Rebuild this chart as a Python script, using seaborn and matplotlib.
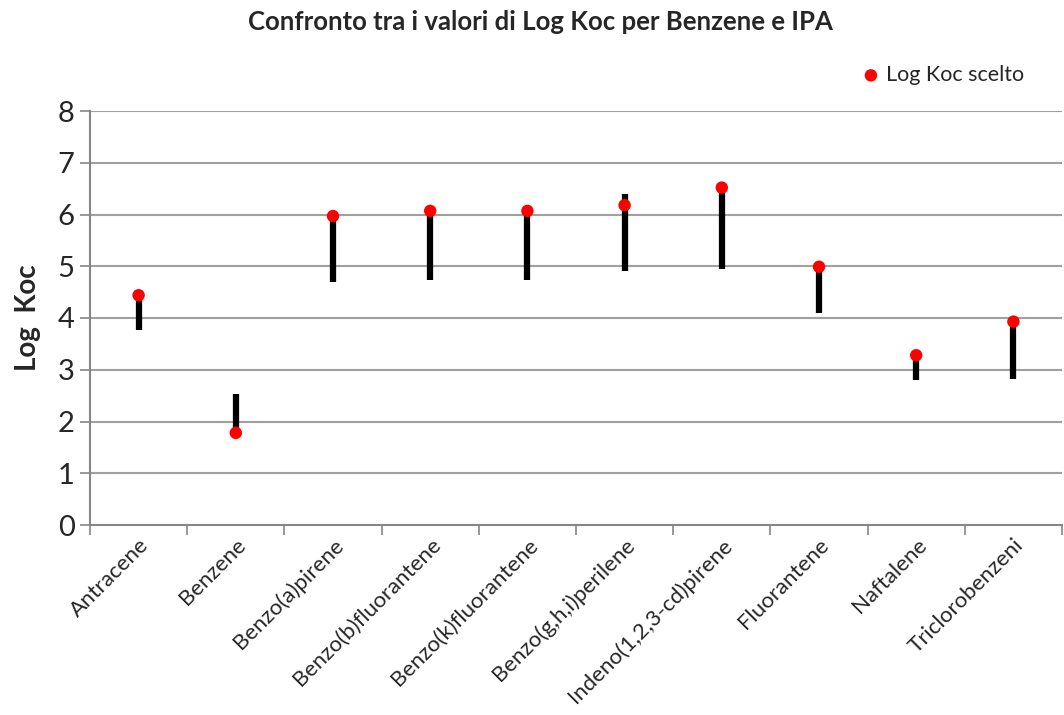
import numpy as np
import pandas as pd
import matplotlib
matplotlib.use("Agg")
import matplotlib.pyplot as plt
import seaborn as sns

compounds = ["Antracene", "Benzene", "Benzo(a)pirene", "Benzo(b)fluorantene",
             "Benzo(k)fluorantene", "Benzo(g,h,i)perilene", "Indeno(1,2,3-cd)pirene",
             "Fluorantene", "Naftalene", "Triclorobenzeni"]
koc_min = [3.77, 1.78, 4.70, 4.74, 4.74, 4.90, 4.95, 4.10, 2.81, 2.83]
koc_max = [4.44, 2.53, 5.97, 6.07, 6.07, 6.40, 6.52, 4.99, 3.28, 3.93]
koc_scelto = [4.44, 1.78, 5.97, 6.07, 6.07, 6.18, 6.52, 4.99, 3.28, 3.93]

df = pd.DataFrame({"compound": compounds, "min": koc_min,
                   "max": koc_max, "scelto": koc_scelto})

sns.set_theme(style="white")
plt.rcParams["font.family"] = ["Lato", "DejaVu Sans"]

fig = plt.figure(figsize=(10.64, 7.15), dpi=100)
ax = fig.add_axes([90 / 1064, 1 - 525 / 715, 972 / 1064, 414 / 715])

grid_col = "#a0a0a0"
for y in range(1, 9):
    ax.axhline(y, color=grid_col, lw=1.5, zorder=0)

ax.vlines(x=np.arange(len(df)), ymin=df["min"], ymax=df["max"],
          color="black", lw=4.5, zorder=2)
sns.scatterplot(data=df, x="compound", y="scelto", ax=ax, color="#ff0000",
                s=80, edgecolor="none", zorder=3, label="Log Koc scelto")

ax.set_xlim(-0.5, len(df) - 0.5)
ax.set_ylim(0, 8)
ax.set_yticks(range(0, 9))
ax.tick_params(axis="y", labelsize=21, length=7, width=1.2, color="#868686",
               left=True, pad=4)
ax.set_xticks(range(len(df)))
ax.set_xticklabels(compounds, rotation=45, ha="right", rotation_mode="anchor",
                   fontsize=16)
ax.tick_params(axis="x", length=0, pad=7)
ax.set_xticks(np.arange(-0.5, len(df), 1), minor=True)
ax.tick_params(axis="x", which="minor", length=7, width=1.2, color="#868686",
               bottom=True)

for side in ["top", "right"]:
    ax.spines[side].set_visible(False)
for side in ["left", "bottom"]:
    ax.spines[side].set_color("#868686")
    ax.spines[side].set_linewidth(1.5)

ax.set_xlabel("")
ax.set_ylabel("Log  Koc", fontsize=20, fontweight="bold", labelpad=12)

fig.text(540 / 1064, 1 - 22 / 715, "Confronto tra i valori di Log Koc per Benzene e IPA",
         ha="center", va="center", fontsize=18.5, fontweight="bold")

ax.legend(loc="center left", bbox_to_anchor=(830 / 1064, 1 - 75 / 715),
          bbox_transform=fig.transFigure, frameon=False, fontsize=15.5,
          handletextpad=-0.3, markerscale=1.0)

fig.savefig("out.png", dpi=100)
